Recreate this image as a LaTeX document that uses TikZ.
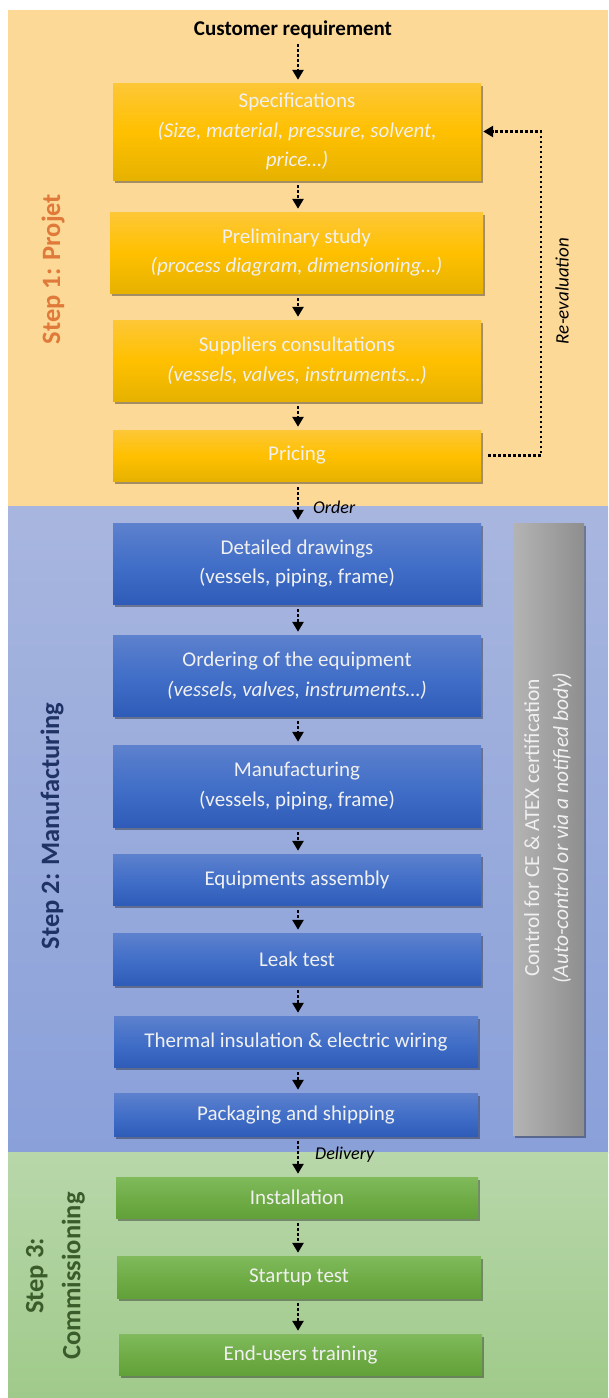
\documentclass[tikz,border=0pt]{standalone}
\usepackage{fontspec}
\setmainfont{Carlito}
\usetikzlibrary{arrows.meta,shadows,calc}
\definecolor{opanel}{RGB}{253,217,152}
\definecolor{bpaneltop}{RGB}{168,182,223}
\definecolor{bpanelbot}{RGB}{138,160,217}
\definecolor{gpaneltop}{RGB}{184,215,170}
\definecolor{gpanelbot}{RGB}{160,202,139}
\definecolor{otop}{RGB}{253,199,55}
\definecolor{omid}{RGB}{255,192,0}
\definecolor{obot}{RGB}{230,178,0}
\definecolor{btop}{RGB}{93,129,205}
\definecolor{bmid}{RGB}{66,111,200}
\definecolor{bbot}{RGB}{46,92,184}
\definecolor{gtop}{RGB}{128,186,92}
\definecolor{gmid}{RGB}{112,173,71}
\definecolor{gbot}{RGB}{98,160,58}
\definecolor{greyleft}{RGB}{180,180,180}
\definecolor{greyright}{RGB}{142,142,142}
\definecolor{stepone}{RGB}{223,122,58}
\definecolor{steptwo}{RGB}{31,50,100}
\definecolor{stepthree}{RGB}{58,92,42}
\definecolor{boxtext}{RGB}{240,240,240}
\tikzset{
  boxbase/.style={rectangle, inner sep=0pt, align=center, text=boxtext,
    font=\fontsize{21}{29.5}\selectfont,
    drop shadow={shadow xshift=2pt, shadow yshift=-3pt, opacity=0.35, fill=black}},
  obox/.style={boxbase, top color=otop, bottom color=obot, middle color=omid},
  bbox/.style={boxbase, top color=btop, bottom color=bbot, middle color=bmid},
  gbox/.style={boxbase, top color=gtop, bottom color=gbot, middle color=gmid},
  flowarrow/.style={line width=2.8pt, dash pattern=on 2.8pt off 2.2pt, black,
    -{Triangle[width=11pt,length=10pt]}},
  steplabel/.style={rotate=90, font=\fontsize{26.5}{37}\selectfont\bfseries, align=center, inner sep=0pt},
  sidelabel/.style={font=\fontsize{18}{22}\selectfont\itshape, text=black, inner sep=0pt}
}
\begin{document}
\begin{tikzpicture}[x=1pt,y=-1pt]
\useasboundingbox (0,0) rectangle (608,1398);
% panels
\fill[white] (0,0) rectangle (608,1398);
\fill[opanel] (8,10) rectangle (608,506);
\shade[top color=bpaneltop, bottom color=bpanelbot] (8,506) rectangle (608,1152);
\shade[top color=gpaneltop, bottom color=gpanelbot] (8,1152) rectangle (608,1397);
\coordinate (axis) at (298,0);
\coordinate (rx) at (541,0);
% step labels
\node[steplabel, text=stepone] (s1) at (53,269) {Step 1: Projet};
\node[steplabel, text=steptwo] (s2) at (52,826) {Step 2: Manufacturing};
\node[steplabel, text=stepthree] (s3) at (55.5,1276) {Step 3:\\Commissioning};
% top label
\node[font=\fontsize{21}{24}\selectfont\bfseries, inner sep=0pt] (cust) at (293,30) {Customer requirement};
% step 1 boxes
\node[obox, minimum width=368pt, minimum height=97pt] (spec) at (297,131.5)
  {Specifications\\\itshape (Size, material, pressure, solvent,\\\itshape price…)};
\node[obox, minimum width=373pt, minimum height=81pt] (prelim) at (296.5,252.5)
  {Preliminary study\\\itshape (process diagram, dimensioning…)};
\node[obox, minimum width=368pt, minimum height=81pt] (supp) at (297,360.5)
  {Suppliers consultations\\\itshape (vessels, valves, instruments…)};
\node[obox, minimum width=368pt, minimum height=51pt] (pricing) at (297,455.5) {Pricing};
% step 2 boxes
\node[bbox, minimum width=368pt, minimum height=81pt] (detail) at (297,563.5)
  {Detailed drawings\\(vessels, piping, frame)};
\node[bbox, minimum width=368pt, minimum height=81pt] (ordering) at (297,675.5)
  {Ordering of the equipment\\\itshape (vessels, valves, instruments…)};
\node[bbox, minimum width=368pt, minimum height=82pt] (manuf) at (297,786)
  {Manufacturing\\(vessels, piping, frame)};
\node[bbox, minimum width=368pt, minimum height=51pt] (assembly) at (297,879.5) {Equipments assembly};
\node[bbox, minimum width=368pt, minimum height=52pt] (leak) at (297,959) {Leak test};
\node[bbox, minimum width=364pt, minimum height=51pt] (thermal) at (296,1041.5) {Thermal insulation \& electric wiring};
\node[bbox, minimum width=364pt, minimum height=43pt] (packing) at (296,1114.5) {Packaging and shipping};
% grey control box
\node[boxbase, left color=greyleft, right color=greyright, minimum width=71pt, minimum height=612pt] (ctrl) at (548.5,829) {};
\node[rotate=90, align=center, text=boxtext, font=\fontsize{21.5}{29}\selectfont, inner sep=0pt] (ctrltext) at (548,828)
  {Control for CE \& ATEX certification\\\itshape (Auto-control or via a notified body)};
% step 3 boxes
\node[gbox, minimum width=362pt, minimum height=41pt] (install) at (297,1197.5) {Installation};
\node[gbox, minimum width=364pt, minimum height=42pt] (startup) at (299,1277) {Startup test};
\node[gbox, minimum width=363pt, minimum height=41pt] (training) at (300.5,1354.5) {End-users training};
% arrows
\draw[flowarrow] ($(cust.south -| axis)+(0,5)$) -- ($(spec.north -| axis)+(0,-3)$);
\draw[flowarrow] ($(spec.south -| axis)+(0,5)$) -- ($(prelim.north -| axis)+(0,-3)$);
\draw[flowarrow] ($(prelim.south -| axis)+(0,5)$) -- ($(supp.north -| axis)+(0,-3)$);
\draw[flowarrow] ($(supp.south -| axis)+(0,5)$) -- ($(pricing.north -| axis)+(0,-3)$);
\draw[flowarrow] ($(pricing.south -| axis)+(0,6)$) -- ($(detail.north -| axis)+(0,-3)$);
\draw[flowarrow] ($(detail.south -| axis)+(0,5)$) -- ($(ordering.north -| axis)+(0,-3)$);
\draw[flowarrow] ($(ordering.south -| axis)+(0,5)$) -- ($(manuf.north -| axis)+(0,-3)$);
\draw[flowarrow] ($(manuf.south -| axis)+(0,5)$) -- ($(assembly.north -| axis)+(0,-3)$);
\draw[flowarrow] ($(assembly.south -| axis)+(0,5)$) -- ($(leak.north -| axis)+(0,-3)$);
\draw[flowarrow] ($(leak.south -| axis)+(0,5)$) -- ($(thermal.north -| axis)+(0,-3)$);
\draw[flowarrow] ($(thermal.south -| axis)+(0,5)$) -- ($(packing.north -| axis)+(0,-3)$);
\draw[flowarrow] ($(packing.south -| axis)+(0,5)$) -- ($(install.north -| axis)+(0,-3)$);
\draw[flowarrow] ($(install.south -| axis)+(0,5)$) -- ($(startup.north -| axis)+(0,-3)$);
\draw[flowarrow] ($(startup.south -| axis)+(0,5)$) -- ($(training.north -| axis)+(0,-3)$);
% labels on arrows
\node[sidelabel, anchor=west] (orderlbl) at (313,507) {Order};
\node[sidelabel, anchor=west] (deliverylbl) at (315,1155) {Delivery};
% re-evaluation loop
\draw[flowarrow] ([xshift=7pt]pricing.east) -- (pricing.east -| rx) -- (spec.east -| rx) -- ([xshift=2pt]spec.east);
\node[rotate=90, font=\fontsize{19}{22}\selectfont\itshape, inner sep=0pt] (reval) at (562,291) {Re-evaluation};
\end{tikzpicture}
\end{document}
